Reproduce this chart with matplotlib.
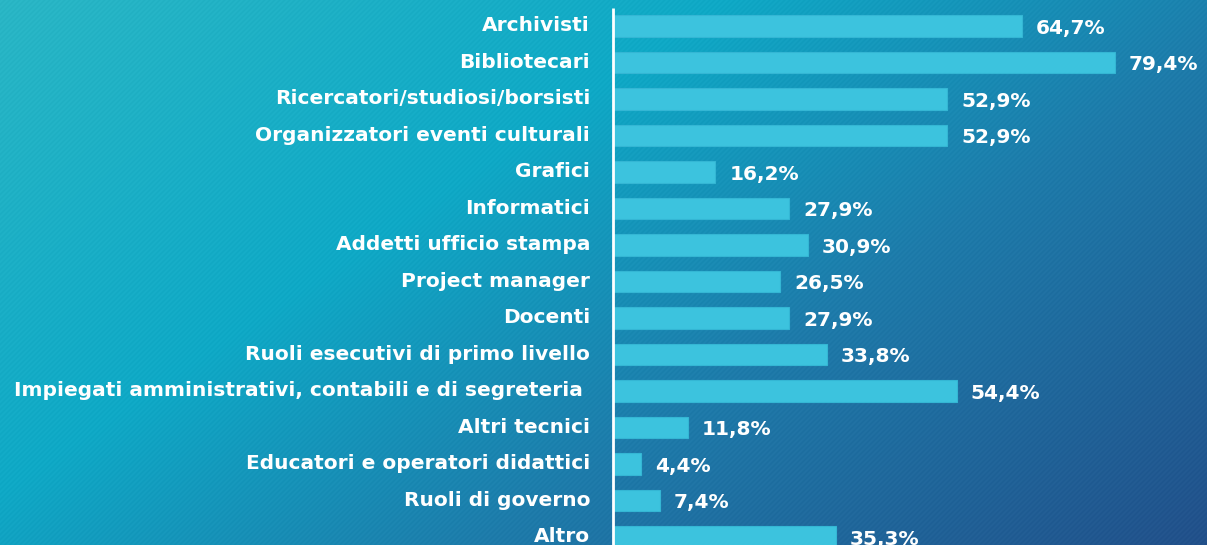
import numpy as np
import matplotlib
matplotlib.use("Agg")
import matplotlib.pyplot as plt
from matplotlib.colors import to_rgb

# dati del grafico
categorie = [
    "Archivisti",
    "Bibliotecari",
    "Ricercatori/studiosi/borsisti",
    "Organizzatori eventi culturali",
    "Grafici",
    "Informatici",
    "Addetti ufficio stampa",
    "Project manager",
    "Docenti",
    "Ruoli esecutivi di primo livello",
    "Impiegati amministrativi, contabili e di segreteria ",
    "Altri tecnici",
    "Educatori e operatori didattici",
    "Ruoli di governo",
    "Altro",
]
valori = [64.7, 79.4, 52.9, 52.9, 16.2, 27.9, 30.9, 26.5, 27.9, 33.8, 54.4, 11.8, 4.4, 7.4, 35.3]

W, H = 1207, 545
plt.rcParams["font.family"] = ["DejaVu Sans"]

fig = plt.figure(figsize=(W / 100, H / 100), dpi=100)

# sfondo sfumato con righe diagonali
bg = fig.add_axes([0, 0, 1, 1])
yy, xx = np.mgrid[0:H, 0:W]
t = 0.75 * xx / W + 0.5 * yy / H
stops = [0.0, 0.45, 0.8, 1.25]
cols = np.array([to_rgb(c) for c in ["#2AB6C5", "#0FA9C6", "#1E7BAA", "#22508A"]])
img = np.zeros((H, W, 3))
for k in range(3):
    img[..., k] = np.interp(t, stops, cols[:, k])
righe = 0.01 * np.sin(2 * np.pi * (xx + yy) / 5.0)
img = np.clip(img + righe[..., None], 0, 1)
bg.imshow(img, aspect="auto", extent=[0, W, H, 0], interpolation="nearest")
bg.set_axis_off()

x0 = 613
scala = 6.32  # pixel per punto percentuale
ax = fig.add_axes([x0 / W, 0, 1 - x0 / W, 1])
ax.patch.set_alpha(0)
pos = np.arange(len(categorie))
ax.barh(pos, valori, height=0.6, color="#3CC3DE", edgecolor="#34B6D4", linewidth=0.8)
ax.set_xlim(0, (W - x0) / scala)
ax.set_ylim((H - 26) / 36.5, -26 / 36.5)
ax.vlines(0, -0.49, 20, color="white", lw=2, clip_on=False)
ax.set_xticks([])
ax.set_yticks([])
for s in ax.spines.values():
    s.set_visible(False)

for i, (c, v) in enumerate(zip(categorie, valori)):
    ax.annotate(c, (0, i), xytext=(-16.5, 0), textcoords="offset points",
                va="center", ha="right", color="white", fontsize=14.5, fontweight="bold",
                annotation_clip=False)
    testo = f"{v:.1f}".replace(".", ",") + "%"
    ax.annotate(testo, (v, i), xytext=(10, -1.5), textcoords="offset points",
                va="center", ha="left", color="white", fontsize=14.5, fontweight="bold",
                annotation_clip=False)

fig.savefig("out.png", dpi=100)
